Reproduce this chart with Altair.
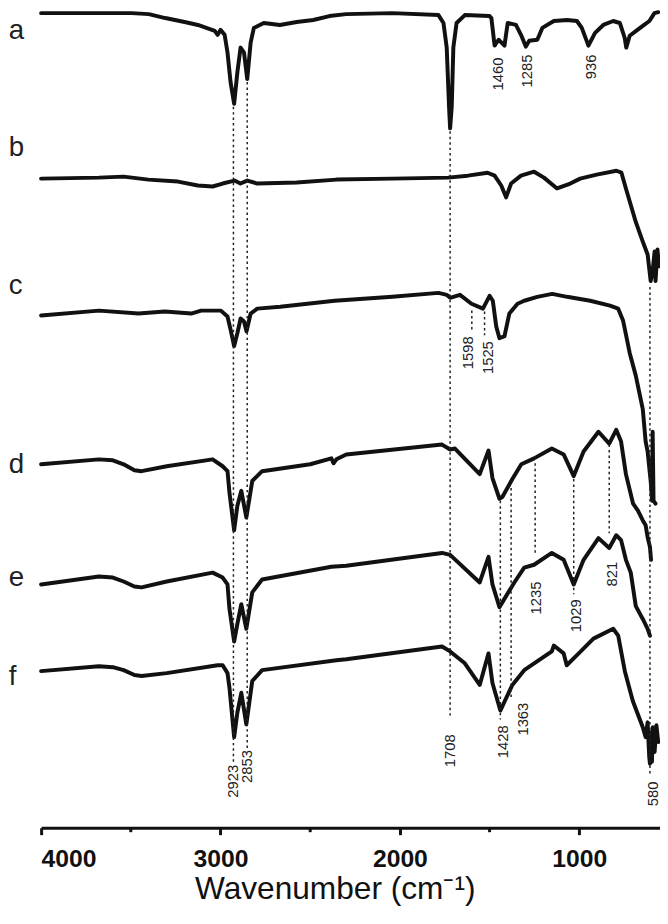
import altair as alt
import pandas as pd

# ---- spectra (wavenumber in cm-1, offset transmittance in a.u.) ----
WN_A = [4000, 3800, 3496, 3400, 3308, 3200, 3126, 3032, 3016, 3000, 2977, 2961, 2944, 2924, 2906, 2888,
        2869, 2851, 2832, 2814, 2759, 2669, 2575, 2483, 2393, 2300, 2042, 1785, 1757, 1739, 1726, 1720,
        1711, 1702, 1684, 1638, 1500, 1490, 1472, 1450, 1417, 1399, 1353, 1325, 1298, 1279, 1234, 1206,
        1142, 1068, 1013, 986, 949, 912, 866, 811, 774, 747, 738, 719, 683, 646, 609, 581, 560]
T_A = [82.7, 82.7, 82.7, 82.6, 82.2, 81.8, 81.5, 80.9, 80.5, 81.0, 80.5, 78.7, 75.7, 73.5, 76.7, 79.2,
       78.7, 76.0, 79.7, 81.2, 81.7, 81.5, 81.8, 82.0, 82.4, 82.6, 82.7, 82.5, 81.7, 79.2, 73.2, 71.0,
       73.2, 79.2, 81.7, 82.5, 82.4, 82.2, 79.4, 80.0, 79.4, 81.7, 81.5, 80.5, 79.3, 79.9, 80.0, 81.2,
       81.9, 82.0, 81.9, 81.2, 79.4, 80.7, 81.5, 81.9, 81.7, 80.2, 79.2, 80.4, 80.9, 81.4, 81.9, 82.7, 82.8]

WN_B = [4000, 3678, 3540, 3402, 3237, 3126, 3044, 2988, 2922, 2889, 2851, 2795, 2575, 2354, 2042, 1731,
        1621, 1511, 1472, 1435, 1408, 1380, 1325, 1252, 1197, 1124, 1050, 995, 903, 793, 765, 740, 685,
        646, 619, 602, 590, 580, 575, 564, 556]
T_B = [65.9, 66.0, 66.1, 65.8, 65.6, 65.2, 65.1, 65.4, 65.7, 65.4, 65.7, 65.4, 65.5, 65.8, 65.9, 66.0,
       66.2, 66.5, 66.2, 65.2, 64.0, 65.4, 66.2, 66.6, 66.0, 64.9, 65.4, 65.9, 66.3, 66.7, 66.5, 64.9, 61.5,
       59.5, 58.2, 55.5, 56.7, 58.5, 55.5, 58.7, 57.0]

WN_C = [4000, 3678, 3457, 3310, 3163, 3108, 2998, 2961, 2943, 2924, 2906, 2888, 2869, 2855, 2832, 2795,
        2667, 2364, 2042, 1785, 1739, 1720, 1665, 1601, 1537, 1500, 1482, 1463, 1445, 1417, 1390, 1344,
        1307, 1234, 1151, 1068, 939, 829, 783, 756, 719, 685, 646, 630, 619, 602, 594, 591, 586, 575]
T_C = [52.0, 52.5, 52.2, 52.4, 52.2, 52.5, 52.5, 51.9, 50.5, 48.9, 50.2, 51.7, 51.4, 50.4, 52.2, 52.7,
       52.9, 53.5, 53.9, 54.3, 54.1, 53.8, 54.1, 53.2, 52.7, 54.0, 53.5, 50.9, 49.7, 49.9, 52.2, 53.2,
       53.5, 53.9, 54.2, 53.9, 53.5, 53.0, 52.7, 51.5, 48.2, 45.9, 42.5, 39.2, 38.2, 35.2, 33.2, 40.2, 33.2, 32.9]

WN_D = [4000, 3678, 3600, 3540, 3480, 3440, 3300, 3044, 2988, 2961, 2950, 2924, 2906, 2884, 2856, 2823,
        2768, 2500, 2382, 2370, 2354, 2299, 1765, 1720, 1693, 1555, 1506, 1484, 1445, 1428, 1373, 1323,
        1252, 1153, 1087, 1031, 976, 893, 833, 794, 767, 740, 700, 673, 646, 630, 619, 606, 600]
T_D = [36.9, 37.4, 37.3, 36.9, 36.3, 36.2, 36.7, 37.4, 36.7, 36.2, 34.0, 30.2, 32.7, 34.2, 31.5, 35.2,
       36.2, 36.9, 37.5, 37.0, 37.4, 37.9, 38.9, 38.4, 38.5, 35.9, 38.3, 35.5, 33.4, 33.6, 35.4, 36.9,
       37.5, 38.5, 37.9, 35.7, 38.2, 40.2, 39.0, 40.4, 39.2, 35.9, 32.9, 32.2, 31.2, 30.7, 29.5, 28.5, 27.2]

WN_E = [4000, 3678, 3600, 3540, 3480, 3440, 3300, 3044, 2988, 2961, 2950, 2924, 2906, 2884, 2856, 2823,
        2768, 2382, 2299, 1765, 1720, 1555, 1506, 1484, 1445, 1362, 1307, 1252, 1153, 1087, 1031, 976,
        893, 833, 794, 767, 740, 713, 685, 646, 619, 606]
T_E = [24.7, 25.5, 25.4, 25.0, 24.5, 24.4, 25.0, 25.9, 25.4, 24.7, 22.2, 18.9, 20.7, 22.7, 20.2, 23.9,
       25.2, 26.5, 26.6, 27.9, 27.7, 24.9, 27.5, 24.7, 22.4, 24.9, 26.4, 26.7, 27.9, 27.2, 24.7, 27.2,
       29.4, 28.4, 29.7, 29.2, 27.2, 25.9, 22.5, 21.2, 20.2, 19.5]

WN_F = [4000, 3678, 3600, 3540, 3480, 3440, 3300, 3016, 2988, 2961, 2950, 2924, 2906, 2884, 2856, 2823,
        2768, 2354, 2299, 1765, 1720, 1638, 1555, 1506, 1484, 1440, 1373, 1307, 1153, 1142, 1087, 1070,
        1003, 921, 811, 783, 746, 702, 673, 646, 630, 619, 610, 606, 600, 595, 590, 580, 570, 560]
T_F = [15.9, 16.4, 16.3, 16.0, 15.5, 15.4, 15.7, 16.5, 16.5, 15.7, 14.2, 9.2, 11.7, 13.7, 10.5, 14.9,
       16.0, 17.0, 17.1, 18.4, 17.9, 16.7, 14.5, 17.7, 14.7, 11.9, 14.5, 16.0, 17.9, 18.5, 17.7, 16.5,
       17.7, 19.2, 20.2, 19.5, 15.9, 12.9, 11.5, 10.2, 9.2, 10.7, 7.2, 6.5, 9.7, 6.7, 10.2, 7.7, 10.4, 8.7]

TRACE_NAMES = ["a", "b", "c", "d", "e", "f"]
TRACE_LABEL_Y = [80.1, 68.2, 54.2, 36.0, 24.5, 14.5]
TRACE_LABEL_X = [4180, 4180, 4180, 4180, 4180, 4180]

# ---- dashed guide lines at assigned bands ----
GUIDE_POS = [2928, 2851, 1720, 1599, 1528, 1440, 1380, 1246, 1031, 833, 606]
GUIDE_TOP = [73.2, 75.7, 70.7, 52.5, 52.4, 33.2, 34.5, 37.0, 35.4, 38.9, 54.9]
GUIDE_BOTTOM = [6.5, 8.0, 11.2, 50.4, 50.0, 11.0, 13.0, 27.9, 23.7, 29.9, 5.5]

# ---- band labels ----
BAND_TEXT = ["2923", "2853", "1708", "1460", "1285", "936", "1598", "1525", "1428", "1363", "1235",
             "1029", "821", "580"]
BAND_X = [2928, 2851, 1720, 1450, 1293, 935, 1620, 1510, 1427, 1316, 1239, 1019, 817, 590]
BAND_Y = [6.4, 7.9, 9.5, 78.2, 78.5, 78.5, 49.9, 49.4, 10.4, 12.7, 25.0, 23.2, 27.0, 4.7]

MAJOR_TICKS = [4000, 3000, 2000, 1000]
MINOR_TICKS = [3500, 2500, 1500]
MINOR_TOP = [0.0, 0.0, 0.0]
MINOR_BOTTOM = [-0.45, -0.45, -0.45]

series = {"a": (WN_A, T_A), "b": (WN_B, T_B), "c": (WN_C, T_C),
          "d": (WN_D, T_D), "e": (WN_E, T_E), "f": (WN_F, T_F)}
rows = []
for name, (wn, tv) in series.items():
    for w, v in zip(wn, tv):
        rows.append({"trace": name, "wn": w, "t": v})
df = pd.DataFrame(rows)

df_guides = pd.DataFrame({"wn": GUIDE_POS, "t": GUIDE_TOP, "t2": GUIDE_BOTTOM})
df_bands = pd.DataFrame({"wn": BAND_X, "t": BAND_Y, "label": BAND_TEXT})
df_names = pd.DataFrame({"wn": TRACE_LABEL_X, "t": TRACE_LABEL_Y, "label": TRACE_NAMES})
df_minor = pd.DataFrame({"wn": MINOR_TICKS, "t": MINOR_TOP, "t2": MINOR_BOTTOM})

FONT = "Liberation Sans"
W, H = 626, 824

xs = alt.Scale(domain=[550, 4000], reverse=True, nice=False, zero=False)
ys = alt.Scale(domain=[0, 82.7], nice=False, zero=False)

x_axis = alt.Axis(values=MAJOR_TICKS, format="d", domainWidth=3, domainColor="#111", tickWidth=3,
                  tickColor="#111", tickSize=7, labelFontSize=25, labelFontWeight="bold",
                  labelColor="#111", labelFont=FONT, labelPadding=12, titleFont=FONT,
                  titleFontSize=32, titleFontWeight="normal", titleColor="#111", titlePadding=3,
                  titleX=297, grid=False)

lines = alt.Chart(df).mark_line(color="#111", strokeWidth=4, strokeJoin="round", strokeCap="round").encode(
    x=alt.X("wn:Q", scale=xs, axis=x_axis, title="Wavenumber (cm⁻¹)"),
    y=alt.Y("t:Q", scale=ys, axis=None),
    detail="trace:N",
)

guides = alt.Chart(df_guides).mark_rule(color="#222", strokeWidth=1.5, strokeDash=[2.5, 3]).encode(
    x=alt.X("wn:Q"), y=alt.Y("t:Q"), y2="t2:Q"
)

bands = alt.Chart(df_bands).mark_text(angle=270, align="right", baseline="middle", fontSize=15,
                                       font=FONT, color="#222").encode(
    x=alt.X("wn:Q"), y=alt.Y("t:Q"), text="label:N"
)

names = alt.Chart(df_names).mark_text(align="left", baseline="alphabetic", fontSize=28,
                                       font=FONT, color="#222").encode(
    x=alt.X("wn:Q"), y=alt.Y("t:Q"), text="label:N"
)

minor = alt.Chart(df_minor).mark_rule(color="#111", strokeWidth=3).encode(
    x=alt.X("wn:Q"), y=alt.Y("t:Q"), y2="t2:Q"
)

chart = alt.layer(lines, guides, bands, names, minor).properties(
    width=W, height=H,
    autosize=alt.AutoSizeParams(type="none"),
    padding={"left": 33.5, "top": 0, "right": 0, "bottom": 78},
    background="white",
).configure_view(strokeWidth=0)

chart.save("out.html", embed_options={"renderer": "svg", "actions": False})
